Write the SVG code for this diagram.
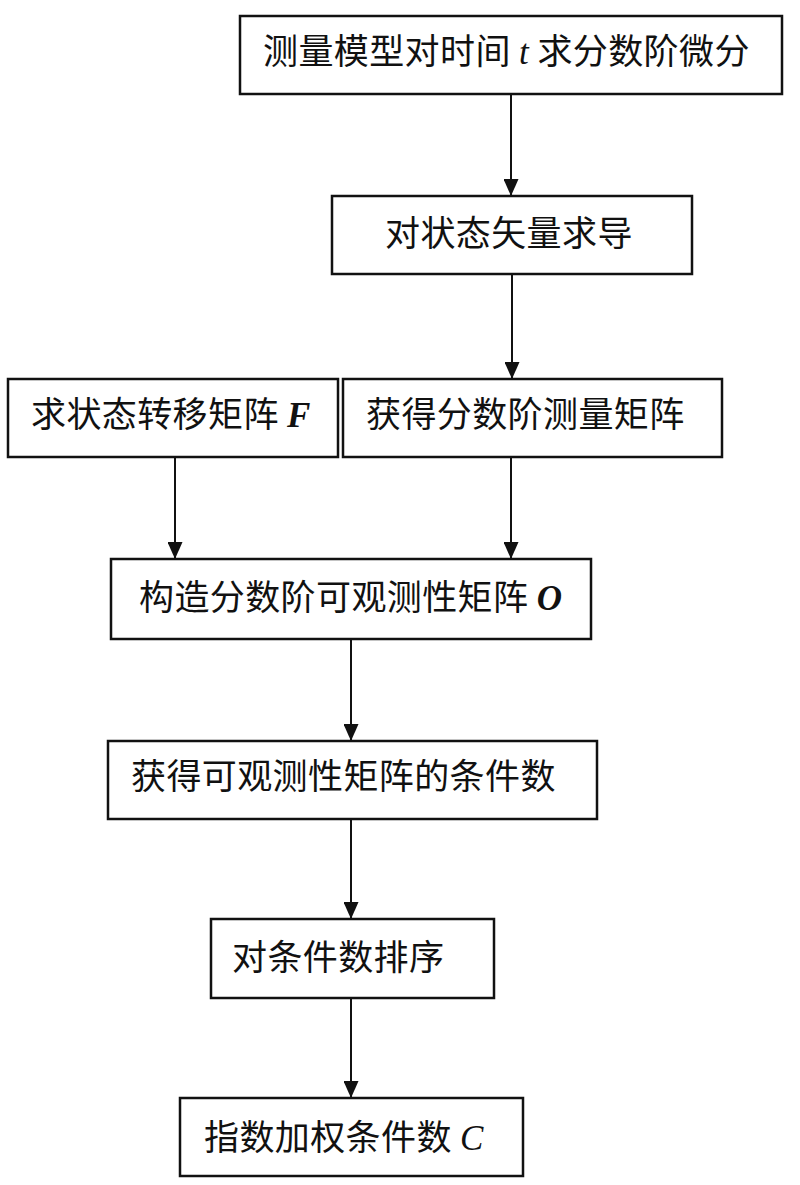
<svg xmlns="http://www.w3.org/2000/svg" width="800" height="1185" viewBox="0 0 800 1185">
<style>
.box{fill:#fff;stroke:#111;stroke-width:2.5}
.lbl{font-family:"Noto Sans CJK SC","Noto Sans",sans-serif;font-size:35px;fill:#111;letter-spacing:0.4px}
.m{font-family:"Liberation Serif",serif;font-style:italic}
.mb{font-family:"Liberation Serif",serif;font-style:italic;font-weight:bold}
.con{stroke:#111;stroke-width:2;fill:none}
</style>
<defs>
<marker id="ah" markerUnits="userSpaceOnUse" markerWidth="17" markerHeight="15" refX="17" refY="7.5" orient="auto">
<path d="M0,0 L17,7.5 L0,15 z" fill="#111"/>
</marker>
</defs>
<rect width="800" height="1185" fill="#fff"/>
<g id="connectors">
<line class="con" x1="511" y1="94" x2="511" y2="196" marker-end="url(#ah)"/>
<line class="con" x1="512" y1="274" x2="512" y2="379" marker-end="url(#ah)"/>
<line class="con" x1="175" y1="457" x2="175" y2="559" marker-end="url(#ah)"/>
<line class="con" x1="511" y1="457" x2="511" y2="559" marker-end="url(#ah)"/>
<line class="con" x1="351" y1="639" x2="351" y2="741" marker-end="url(#ah)"/>
<line class="con" x1="351" y1="819" x2="351" y2="919" marker-end="url(#ah)"/>
<line class="con" x1="351" y1="998" x2="351" y2="1098" marker-end="url(#ah)"/>
</g>
<g id="n1">
<rect class="box" x="240" y="16" width="542" height="78"/>
<text class="lbl" x="263" y="64">测量模型对时间 <tspan class="m">t</tspan> 求分数阶微分</text>
</g>
<g id="n2">
<rect class="box" x="332" y="196" width="360" height="78"/>
<text class="lbl" x="385" y="246">对状态矢量求导</text>
</g>
<g id="n3">
<rect class="box" x="8" y="379" width="330" height="78"/>
<text class="lbl" x="31" y="427">求状态转移矩阵 <tspan class="mb">F</tspan></text>
</g>
<g id="n4">
<rect class="box" x="343" y="379" width="379" height="78"/>
<text class="lbl" x="366" y="427">获得分数阶测量矩阵</text>
</g>
<g id="n5">
<rect class="box" x="111" y="559" width="480" height="80"/>
<text class="lbl" x="139" y="610">构造分数阶可观测性矩阵 <tspan class="mb">O</tspan></text>
</g>
<g id="n6">
<rect class="box" x="108" y="741" width="489" height="78"/>
<text class="lbl" x="131" y="789">获得可观测性矩阵的条件数</text>
</g>
<g id="n7">
<rect class="box" x="211" y="919" width="283" height="79"/>
<text class="lbl" x="232" y="970">对条件数排序</text>
</g>
<g id="n8">
<rect class="box" x="180" y="1098" width="343" height="78"/>
<text class="lbl" x="204" y="1150">指数加权条件数 <tspan class="m">C</tspan></text>
</g>
</svg>
